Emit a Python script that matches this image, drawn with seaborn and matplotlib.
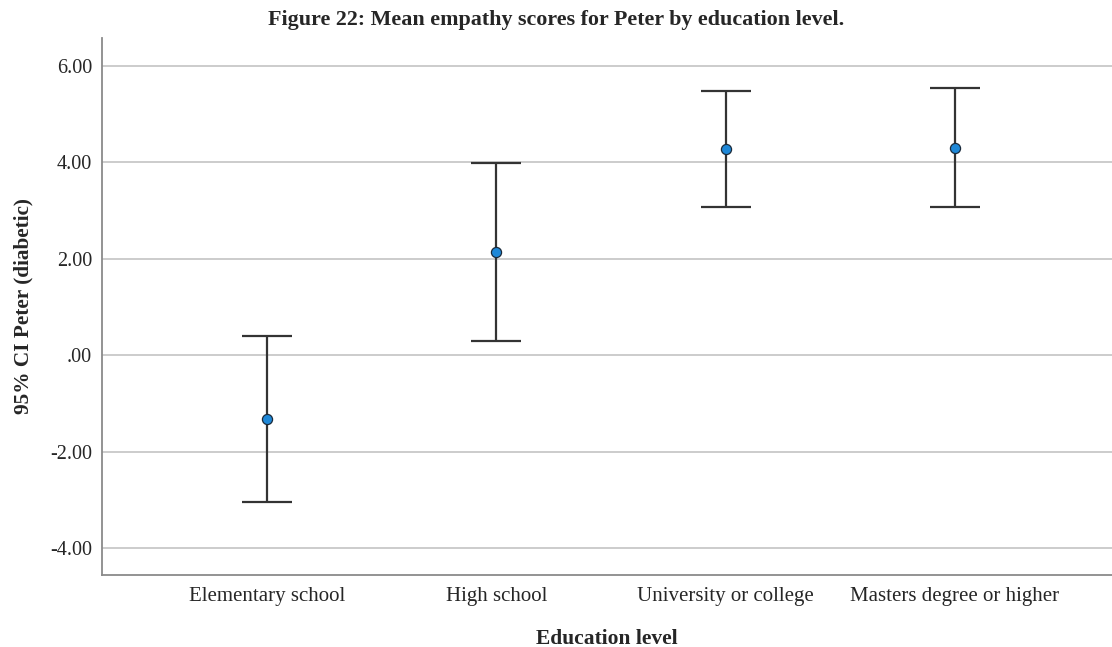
import matplotlib
matplotlib.use("Agg")
import matplotlib.pyplot as plt
import seaborn as sns
import pandas as pd

# Mean empathy scores with 95% confidence limits per education level
categories = ["Elementary school", "High school", "University or college",
              "Masters degree or higher"]
means = [-1.33, 2.14, 4.28, 4.30]
ci_low = [-3.05, 0.30, 3.07, 3.07]
ci_high = [0.39, 3.98, 5.49, 5.54]
y_ticks = [-4, -2, 0, 2, 4, 6]
y_tick_labels = ["-4.00", "-2.00", ".00", "2.00", "4.00", "6.00"]

df = pd.DataFrame({"level": categories, "mean": means,
                   "low": ci_low, "high": ci_high})

sns.set_theme(style="white")
plt.rcParams["font.family"] = ["Liberation Serif", "DejaVu Serif"]

fig = plt.figure(figsize=(11.12, 6.47), dpi=100)
ax = fig.add_axes([0.0917, 0.1113, 0.9083, 0.83])

# horizontal grid lines
for t in y_ticks:
    ax.axhline(t, color="#cccccc", lw=1.4, zorder=0)

# confidence intervals with caps
pos = range(len(categories))
ax.errorbar(list(pos), df["mean"],
            yerr=[df["mean"] - df["low"], df["high"] - df["mean"]],
            fmt="none", ecolor="#333333", elinewidth=1.6, capsize=18,
            capthick=1.6, zorder=2)

# group means
sns.pointplot(data=df, x="level", y="mean", order=categories,
              linestyle="none", errorbar=None, marker="o",
              color="#1e88d8", markersize=7.3, markeredgecolor="#1a2a3a",
              markeredgewidth=0.9, ax=ax, zorder=3)

ax.set_xlim(-0.721, 3.685)
ax.set_ylim(-4.56, 6.58)
ax.set_yticks(y_ticks)
ax.set_yticklabels(y_tick_labels, fontsize=14.5)
ax.tick_params(axis="x", labelsize=15, length=0, pad=9)
ax.tick_params(axis="y", length=0, pad=7)

for side in ("top", "right"):
    ax.spines[side].set_visible(False)
for side in ("left", "bottom"):
    ax.spines[side].set_color("#8a8a8a")
    ax.spines[side].set_linewidth(1.3)

ax.set_xlabel("Education level", fontsize=15.5, fontweight="bold", labelpad=16)
ax.set_ylabel("95% CI Peter (diabetic)", fontsize=15.3, fontweight="bold",
              labelpad=12)
fig.suptitle("Figure 22: Mean empathy scores for Peter by education level.",
             fontsize=15.8, fontweight="bold", y=0.984)

fig.savefig("out.png", dpi=100, facecolor="white")
